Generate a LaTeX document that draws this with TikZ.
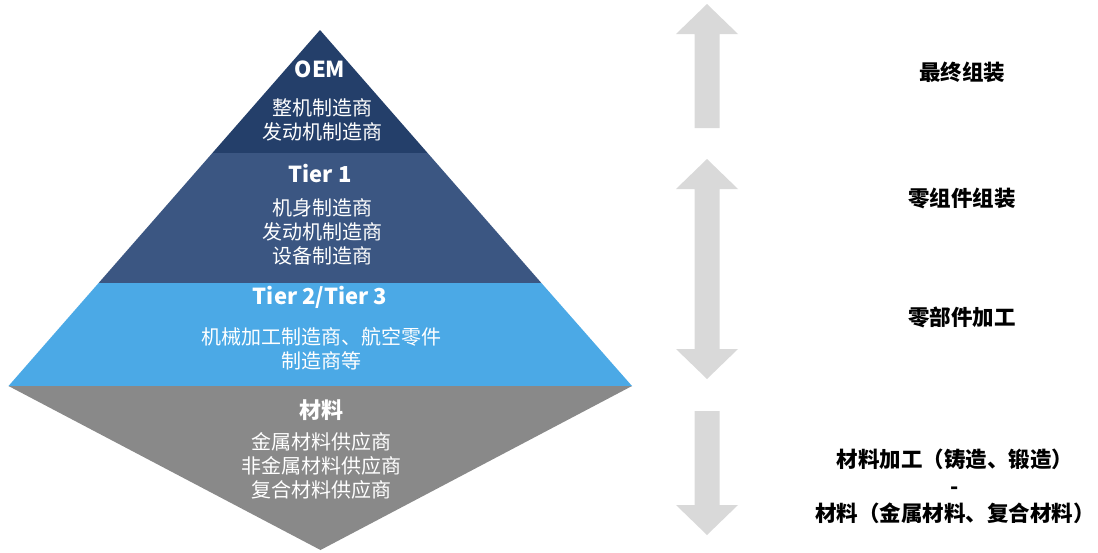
\documentclass[tikz,border=0pt]{standalone}
\usepackage{fontspec}
\setmainfont{Noto Sans CJK SC}
\definecolor{oemc}{HTML}{243F6A}
\definecolor{tieronec}{HTML}{3B5682}
\definecolor{tiertwoc}{HTML}{4BA9E6}
\definecolor{matc}{HTML}{898989}
\definecolor{arrc}{HTML}{D9D9D9}
\tikzset{
  wtitle/.style={text=white, font=\fontsize{22}{24}\selectfont\bfseries, inner sep=0pt, anchor=center},
  wbody/.style={text=white, font=\fontsize{20}{24}\selectfont, inner sep=0pt, align=center, anchor=center},
  rlabel/.style={text=black, font=\fontsize{21.5}{27}\selectfont\bfseries, inner sep=0pt, align=center, anchor=center},
}
\begin{document}
\begin{tikzpicture}[x=1pt,y=-1pt]
\useasboundingbox (0,0) rectangle (1098,552);
% pyramid layers
\fill[oemc] (320,30) -- (427.6,153) -- (212.4,153) -- cycle;
\fill[tieronec] (212.4,153) -- (427.6,153) -- (541.4,283) -- (98.6,283) -- cycle;
\fill[tiertwoc] (98.6,283) -- (541.4,283) -- (632,386) -- (8.5,386) -- cycle;
\fill[matc] (8.5,386) -- (632,386) -- (320.5,550) -- cycle;
% arrows
\fill[arrc] (707,4) -- (738,34) -- (719.5,34) -- (719.5,128) -- (694.5,128) -- (694.5,34) -- (676,34) -- cycle;
\fill[arrc] (707,159) -- (738,189) -- (719.5,189) -- (719.5,349) -- (738,349) -- (707,379) -- (676,349) -- (694.5,349) -- (694.5,189) -- (676,189) -- cycle;
\fill[arrc] (694.5,411) -- (719.5,411) -- (719.5,505) -- (738,505) -- (707,535) -- (676,505) -- (694.5,505) -- cycle;
% pyramid texts
\node[wtitle] (oemt) at (320,69) {OEM};
\node[wbody] (oemb) at (322,120) {整机制造商\\发动机制造商};
\node[wtitle] (t1t) at (320,174) {Tier 1};
\node[wbody] (t1b) at (322,232) {机身制造商\\发动机制造商\\设备制造商};
\node[wtitle] (t2t) at (320,297) {Tier 2/Tier 3};
\node[wbody] (t2b) at (321,349) {机械加工制造商、航空零件\\制造商等};
\node[wtitle] (mt) at (321,410) {材料};
\node[wbody] (mb) at (321,466) {金属材料供应商\\非金属材料供应商\\复合材料供应商};
% right labels
\node[rlabel] (r1) at (962,72) {最终组装};
\node[rlabel] (r2) at (962,198) {零组件组装};
\node[rlabel] (r3) at (962,317) {零部件加工};
\node[rlabel] (r4) at (955,486) {材料加工（铸造、锻造）\\-\\材料（金属材料、复合材料）};
\end{tikzpicture}
\end{document}
